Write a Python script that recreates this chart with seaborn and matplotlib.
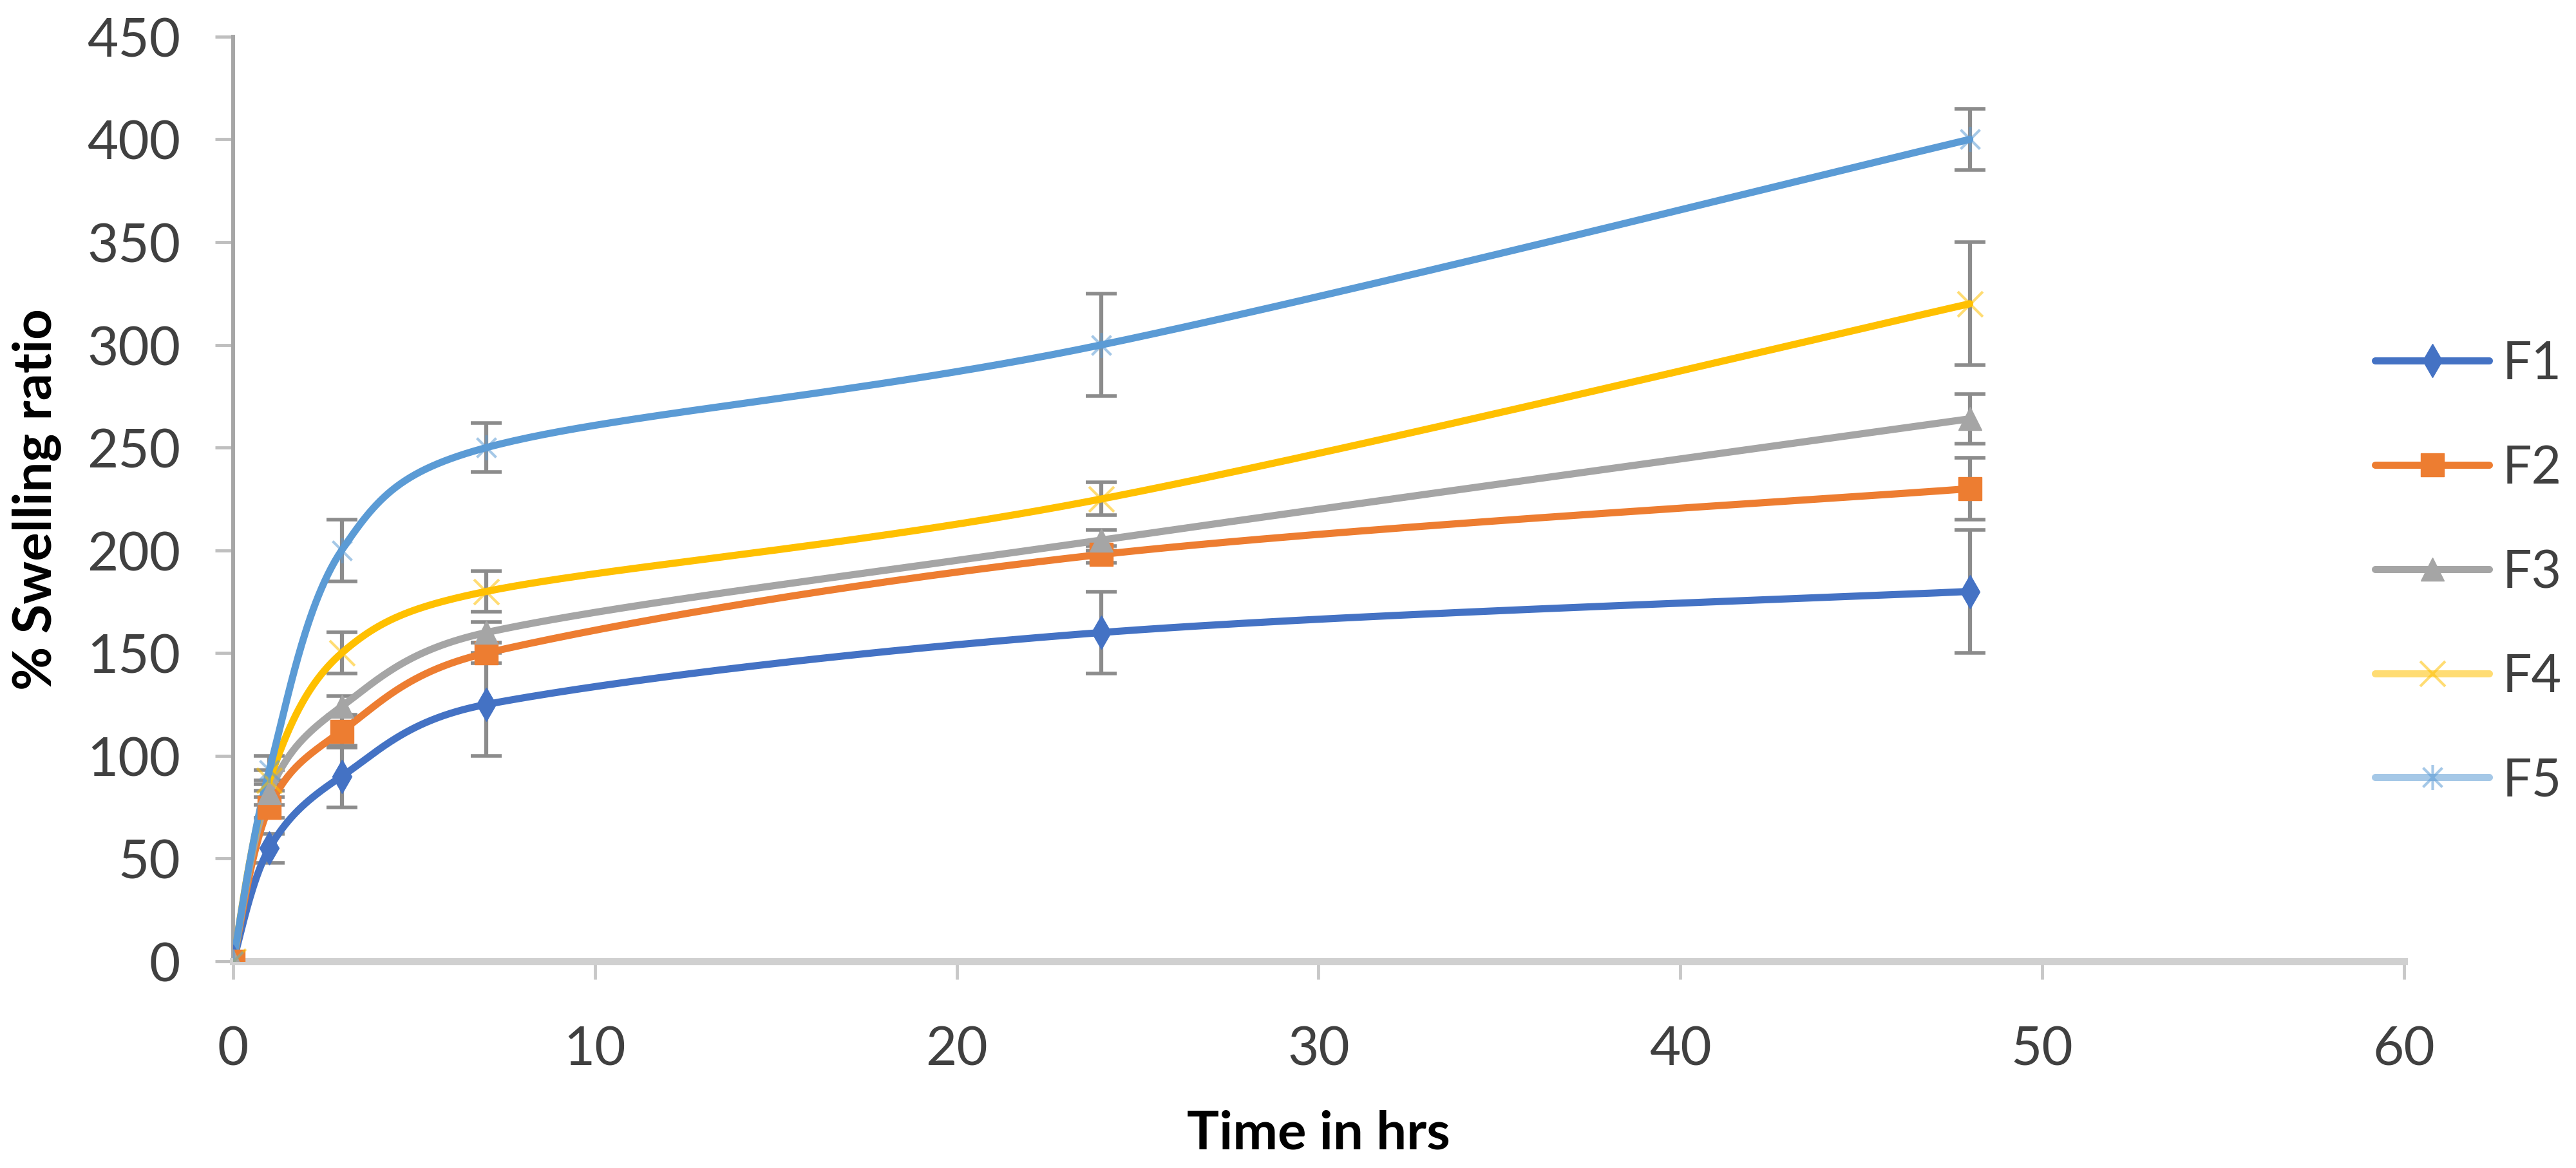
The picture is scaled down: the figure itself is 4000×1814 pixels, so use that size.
import numpy as np
import pandas as pd
import matplotlib
matplotlib.use("Agg")
import matplotlib.pyplot as plt
from matplotlib.lines import Line2D
from matplotlib.path import Path
import seaborn as sns

# ---------------- data ----------------
time_hrs = [0, 1, 3, 7, 24, 48]
series_names = ["F1", "F2", "F3", "F4", "F5"]
f1_values = [0, 55, 90, 125, 160, 180]
f2_values = [0, 75, 112, 150, 198, 230]
f3_values = [0, 82, 124, 160, 205, 264]
f4_values = [0, 88, 150, 180, 225, 320]
f5_values = [0, 93, 200, 250, 300, 400]
f1_err = [0, 7, 15, 25, 20, 30]
f2_err = [0, 5, 8, 5, 4, 15]
f3_err = [0, 6, 5, 5, 5, 12]
f4_err = [0, 5, 10, 10, 8, 30]
f5_err = [0, 7, 15, 12, 25, 15]
x_ticks = [0, 10, 20, 30, 40, 50, 60]
y_ticks = [0, 50, 100, 150, 200, 250, 300, 350, 400, 450]
x_label = "Time in hrs"
y_label = "% Swelling ratio"

values = [f1_values, f2_values, f3_values, f4_values, f5_values]
errors = [f1_err, f2_err, f3_err, f4_err, f5_err]

# ---------------- style ----------------
colors = ["#4472C4", "#ED7D31", "#A5A5A5", "#FFC000", "#5B9BD5"]
star_path = Path([(-1, -1), (1, 1), (-1, 1), (1, -1), (0, -1.3), (0, 1.3)],
                 [Path.MOVETO, Path.LINETO, Path.MOVETO, Path.LINETO,
                  Path.MOVETO, Path.LINETO])
x_path = Path([(-1, -1), (1, 1), (-1, 1), (1, -1)],
              [Path.MOVETO, Path.LINETO, Path.MOVETO, Path.LINETO])
markers = ["d", "s", "^", x_path, star_path]
msizes = [26, 26, 26, 28, 28]
filled = [True, True, True, False, False]

sns.set_theme(style="white")
plt.rcParams["font.family"] = ["Lato", "DejaVu Sans"]

fig = plt.figure(figsize=(40, 18.15), dpi=100)
ax = fig.add_axes([0.0905, 0.1769, 0.8427, 0.7912])

XMIN, XMAX, YMIN, YMAX = 0, 60, 0, 450
# approximate pixel scale (Excel smooths curves in screen space)
SX = 3371 / (XMAX - XMIN)
SY = 1436 / (YMAX - YMIN)


def excel_smooth(xs, ys, n=60):
    P = np.column_stack([np.asarray(xs, float) * SX, np.asarray(ys, float) * SY])
    outx, outy = [], []
    for i in range(len(P) - 1):
        p0 = P[i - 1] if i > 0 else P[i]
        p1 = P[i]
        p2 = P[i + 1]
        p3 = P[i + 2] if i + 2 < len(P) else P[i + 1]
        d02 = np.linalg.norm(p2 - p0)
        d12 = np.linalg.norm(p2 - p1)
        d13 = np.linalg.norm(p3 - p1)
        f = g = 1.0 / 6.0
        if d02 > 0 and d02 * f > d12 / 2:
            f = d12 / (2 * d02)
        if d13 > 0 and d13 * g > d12 / 2:
            g = d12 / (2 * d13)
        c1 = p1 + (p2 - p0) * f
        c2 = p2 - (p3 - p1) * g
        t = np.linspace(0, 1, n)[:, None]
        if i > 0:
            t = t[1:]
        b = ((1 - t) ** 3) * p1 + 3 * ((1 - t) ** 2) * t * c1 + 3 * (1 - t) * t ** 2 * c2 + t ** 3 * p2
        outx.extend(b[:, 0] / SX)
        outy.extend(b[:, 1] / SY)
    return np.array(outx), np.array(outy)


handles = []
for k, name in enumerate(series_names):
    sx, sy = excel_smooth(time_hrs, values[k])
    curve = pd.DataFrame({"x": sx, "y": sy})
    sns.lineplot(data=curve, x="x", y="y", ax=ax, color=colors[k], linewidth=8,
                 sort=False, estimator=None, zorder=3, legend=False)
    eb = ax.errorbar(time_hrs, values[k], yerr=errors[k], fmt="none",
                     ecolor="#8C8C8C", elinewidth=4.5, capsize=17, capthick=4,
                     zorder=2)
    for cl in eb[1]:
        cl.set_color("#606060")
    mk = dict(marker=markers[k], markersize=msizes[k], linestyle="none", zorder=4)
    if filled[k]:
        mk.update(markerfacecolor=colors[k], markeredgecolor=colors[k], markeredgewidth=1)
    else:
        mk.update(markerfacecolor="none", markeredgecolor=colors[k], markeredgewidth=3,
                  alpha=0.55)
    ax.plot(time_hrs, values[k], **mk)
    handles.append(Line2D([0], [0], color=colors[k], linewidth=8,
                          **{kk: vv for kk, vv in mk.items() if kk not in ("linestyle", "zorder")}))

ax.set_xlim(XMIN, XMAX)
ax.set_ylim(YMIN, YMAX)
ax.set_xticks(x_ticks)
ax.set_yticks(y_ticks)
ax.set_xticklabels([str(v) for v in x_ticks])
ax.set_yticklabels([str(v) for v in y_ticks])

for side in ["top", "right"]:
    ax.spines[side].set_visible(False)
ax.spines["left"].set_color("#A6A6A6")
ax.spines["left"].set_linewidth(4.3)
ax.spines["bottom"].set_color("#D0D0D0")
ax.spines["bottom"].set_linewidth(8)

ax.tick_params(axis="y", direction="out", length=20, width=3.5, color="#BFBFBF",
               pad=39, labelsize=60, labelcolor="#404040", left=True)
ax.tick_params(axis="x", direction="out", length=20, width=3.5, color="#C8C8C8",
               pad=52, labelsize=60, labelcolor="#404040", bottom=True)

ax.set_xlabel(x_label, fontsize=60, fontweight="bold", color="black", va="baseline")
ax.xaxis.set_label_coords(0.5, -0.2026)
ax.set_ylabel(y_label, fontsize=60, fontweight="bold", color="black", va="center")
ax.yaxis.set_label_coords(-0.0905, 0.5)

fig.legend(handles=handles, labels=series_names, loc="center left",
           bbox_to_anchor=(0.922, 0.5096), frameon=False, fontsize=58,
           handlelength=2.2, handletextpad=0.25, labelspacing=1.09,
           borderpad=0, borderaxespad=0, labelcolor="#404040")

fig.savefig("out.png", dpi=100, facecolor="white")
